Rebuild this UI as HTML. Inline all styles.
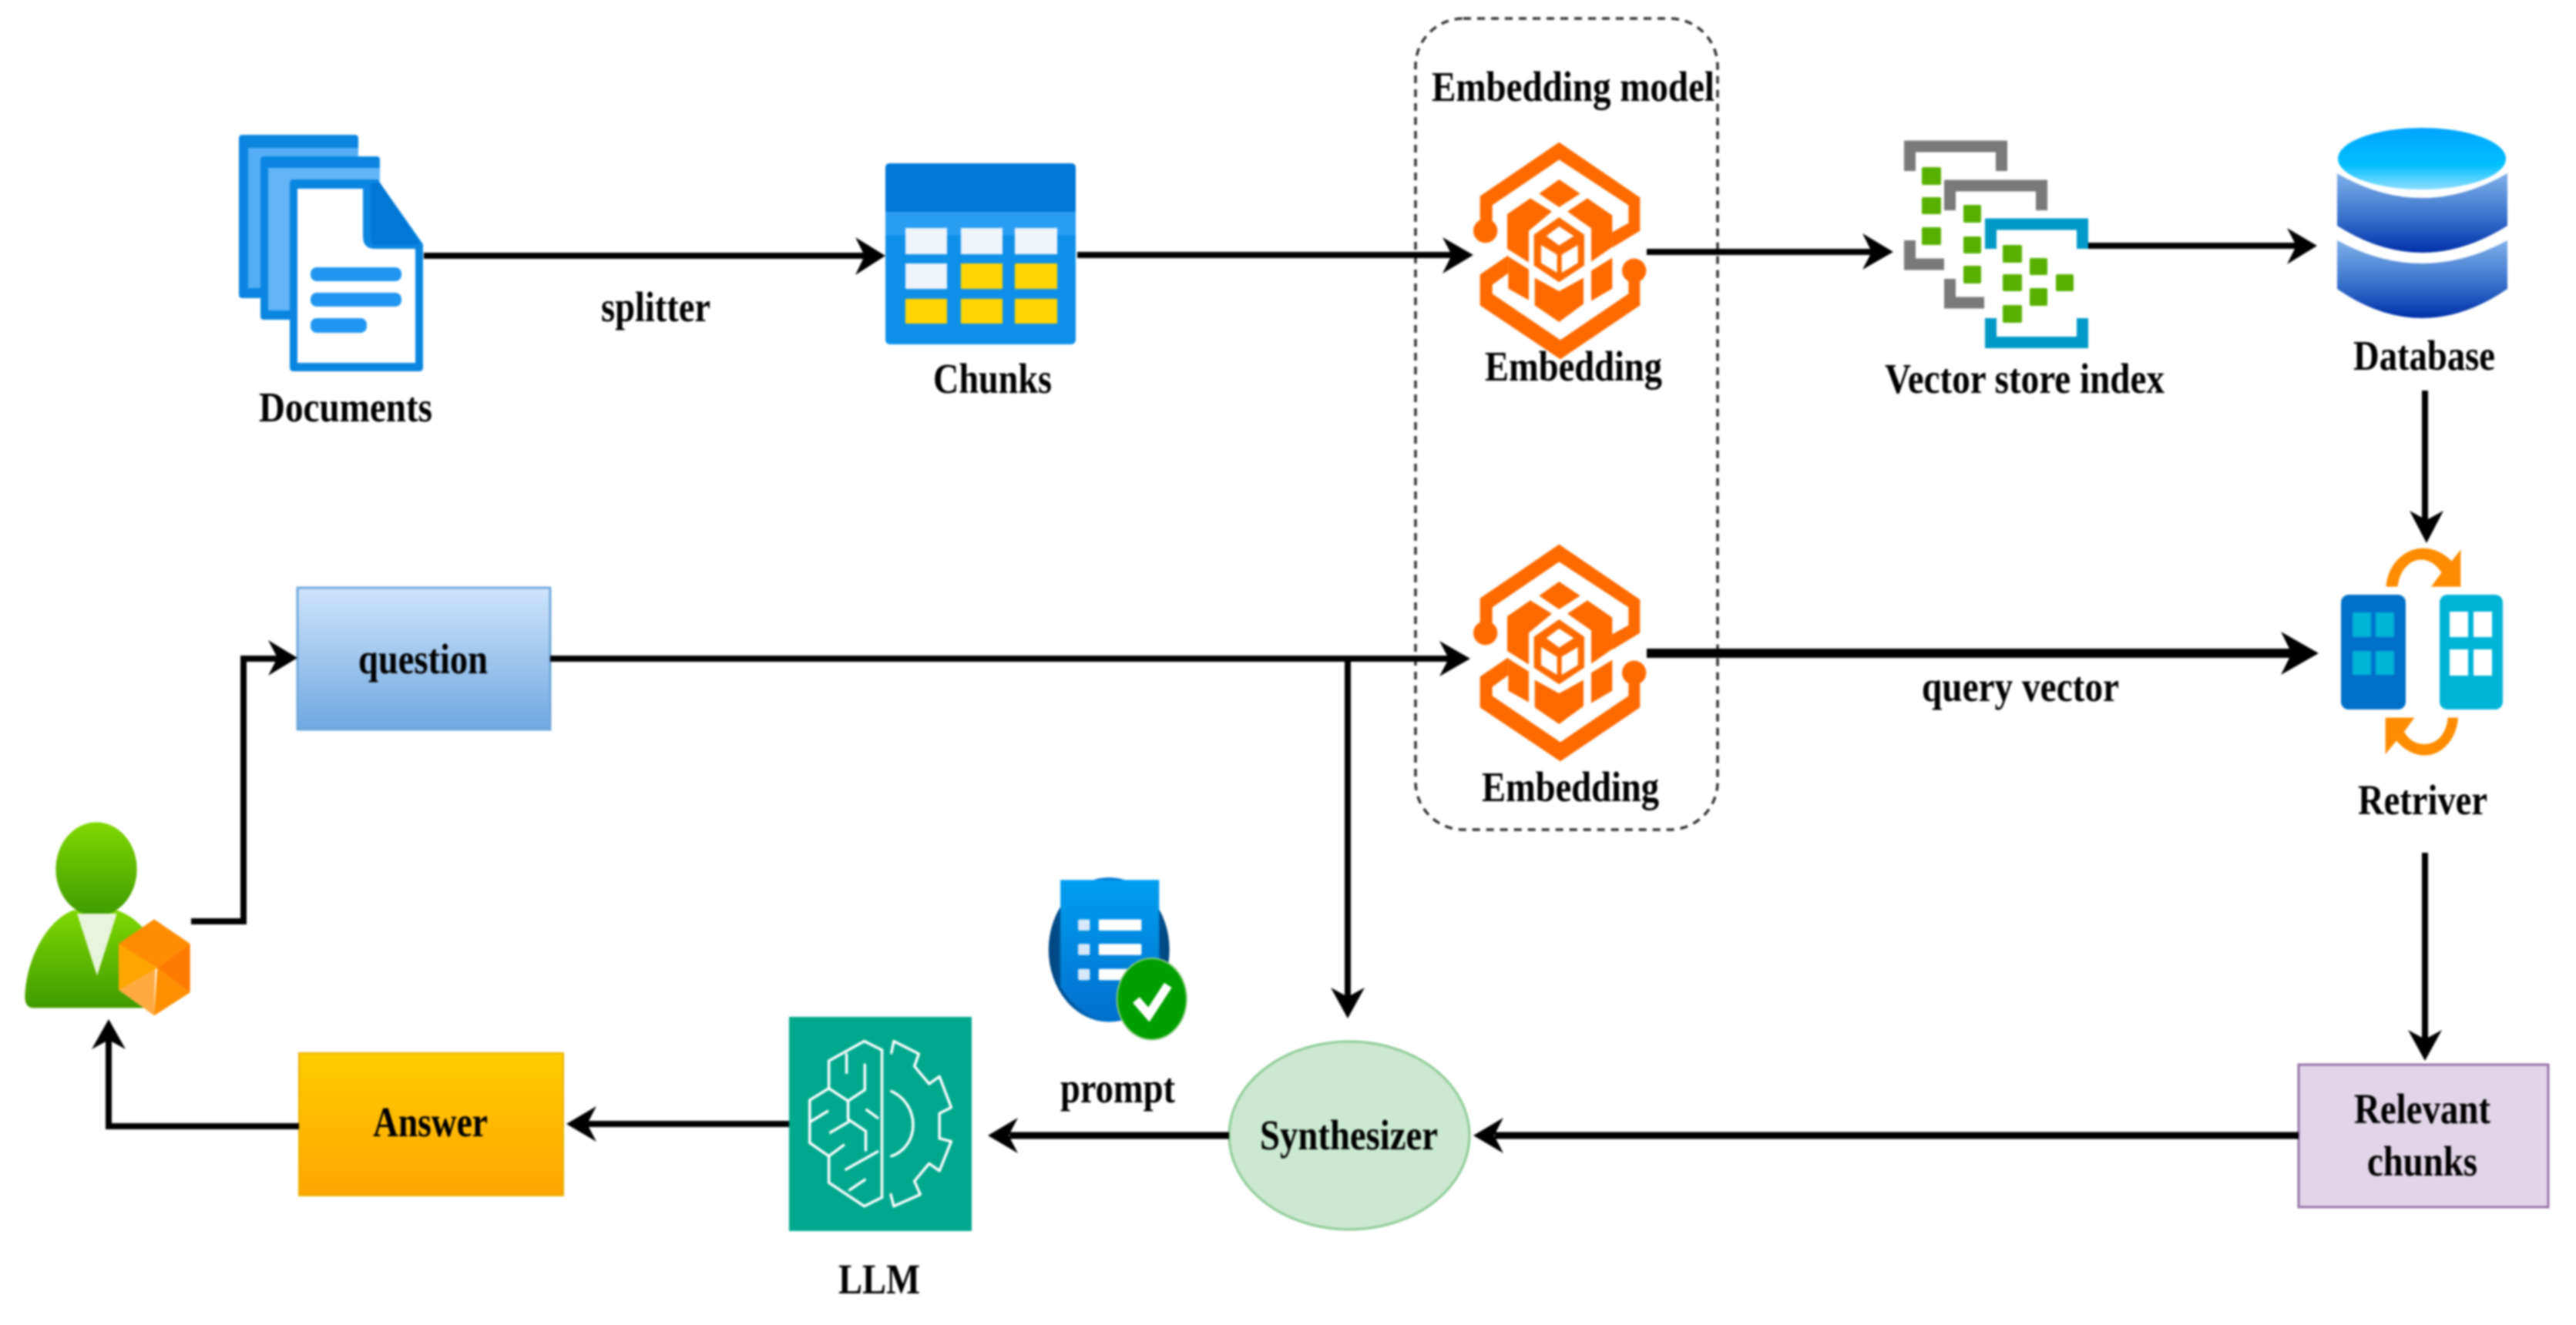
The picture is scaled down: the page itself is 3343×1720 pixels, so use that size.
<!DOCTYPE html>
<html><head><meta charset="utf-8"><style>
html,body{margin:0;padding:0;background:#fff;width:3343px;height:1720px;overflow:hidden}
svg{display:block;filter:blur(1.2px)}
text{font-family:"Liberation Serif",serif;font-weight:bold;font-size:47px;fill:#000}
</style></head><body>
<svg xmlns="http://www.w3.org/2000/svg" width="3343" height="1720" viewBox="0 0 3343 1720">
<defs>
<linearGradient id="dbt" x1="0" y1="0" x2="0" y2="1"><stop offset="0" stop-color="#00A4FF"/><stop offset=".6" stop-color="#00C0FF"/><stop offset="1" stop-color="#8FDDFF"/></linearGradient>
<linearGradient id="dbb" x1="0" y1="0" x2="0" y2="1"><stop offset="0" stop-color="#7FB0E8"/><stop offset=".55" stop-color="#3A72CC"/><stop offset="1" stop-color="#0030A8"/></linearGradient>
<linearGradient id="qg" x1="0" y1="0" x2="0" y2="1"><stop offset="0" stop-color="#CFE4FB"/><stop offset="1" stop-color="#6FA8E0"/></linearGradient>
<linearGradient id="ag" x1="0" y1="0" x2="0" y2="1"><stop offset="0" stop-color="#FFCD00"/><stop offset="1" stop-color="#FFA500"/></linearGradient>
<linearGradient id="ug" x1="0" y1="0" x2="0" y2="1"><stop offset="0" stop-color="#7FD800"/><stop offset="1" stop-color="#3F9A00"/></linearGradient>
<linearGradient id="pd" x1="0" y1="0" x2="1" y2="0"><stop offset="0" stop-color="#00457F"/><stop offset=".5" stop-color="#0078D4"/><stop offset="1" stop-color="#00457F"/></linearGradient>
<linearGradient id="pb" x1="0" y1="0" x2="0" y2="1"><stop offset="0" stop-color="#009EF0"/><stop offset="1" stop-color="#0070CC"/></linearGradient>
<g id="emb" fill="#FF6A00">
<polygon points="122,370 122,260 430,50 745,265 745,395 637,460 637,400 700,365 700,295 430,118 170,295 170,370"/>
<polygon points="462,320 540,268 637,335 637,458 555,515 555,385"/>
<polygon points="402,320 318,268 228,330 228,465 312,518 312,395"/>
<polygon points="352,250 430,195 512,250 430,303"/>
<polygon points="332,410 430,342 528,410 528,530 430,595 332,530"/>
<polygon fill="#fff" points="380,415 430,378 487,415 430,452"/>
<polygon fill="#fff" points="360,450 422,488 422,558 360,520"/>
<polygon fill="#fff" points="440,488 503,450 503,520 440,558"/>
<circle cx="143" cy="395" r="47"/><circle cx="722" cy="550" r="47"/>
<polygon points="122,565 232,490 232,560 170,605 170,640 435,820 700,640 700,580 745,580 745,685 435,895 122,685"/>
<polygon points="232,495 312,545 312,665 232,620"/>
<polygon points="335,578 430,630 525,578 525,680 430,750 335,685"/>
<polygon points="555,550 637,500 637,620 555,668"/>
</g>
</defs>

<!-- dashed group -->
<rect x="1837" y="24" width="392" height="1053" rx="62" ry="62" fill="none" stroke="#333" stroke-width="3.5" stroke-dasharray="10 8"/>

<!-- Documents -->
<g>
<rect x="310" y="175" width="155" height="212" rx="4" fill="#0A86E0"/>
<rect x="322" y="192" width="143" height="182" fill="#55AEF5"/>
<rect x="338" y="203" width="155" height="212" rx="4" fill="#0A86E0"/>
<rect x="348" y="218" width="145" height="185" fill="#62B4F7"/>
<path d="M376 238 Q376 233 381 233 H490 L549 317 V477 Q549 482 544 482 H381 Q376 482 376 477 Z" fill="#0A86E0"/>
<path d="M386 245 H471 V307 Q471 323 487 323 H539 V471 H386 Z" fill="#fff"/>
<path d="M481 237 L493 237 L546 317 L487 318 Q481 318 481 305 Z" fill="#0078D4"/>
<rect x="403" y="347" width="118" height="18" rx="8" fill="#2196F0"/>
<rect x="403" y="380" width="118" height="18" rx="8" fill="#2196F0"/>
<rect x="403" y="413" width="73" height="19" rx="8" fill="#2196F0"/>
</g>
<text transform="translate(336,547) scale(1,1.18)" textLength="225" lengthAdjust="spacingAndGlyphs">Documents</text>
<text transform="translate(780,417) scale(1,1.18)" textLength="142" lengthAdjust="spacingAndGlyphs">splitter</text>

<!-- Chunks -->
<rect x="1149" y="212" width="247" height="235" rx="6" fill="#0F90E8"/>
<path d="M1149 275 V218 Q1149 212 1155 212 H1390 Q1396 212 1396 218 V275 Z" fill="#0078D7"/>
<rect x="1149" y="275" width="247" height="30" fill="#2A9DF2"/>
<g fill="#EFF4FB"><rect x="1175" y="296" width="54" height="34"/><rect x="1247" y="296" width="54" height="34"/><rect x="1317" y="296" width="55" height="34"/><rect x="1175" y="342" width="54" height="33"/></g>
<g fill="#FFD400"><rect x="1247" y="342" width="54" height="33"/><rect x="1317" y="342" width="55" height="33"/><rect x="1175" y="388" width="54" height="32"/><rect x="1247" y="388" width="54" height="32"/><rect x="1317" y="388" width="55" height="32"/></g>
<text transform="translate(1211,510) scale(1,1.18)" textLength="154" lengthAdjust="spacingAndGlyphs">Chunks</text>

<!-- Embedding -->
<text transform="translate(1858,131) scale(1,1.18)" textLength="367" lengthAdjust="spacingAndGlyphs">Embedding model</text>
<use href="#emb" transform="translate(1880,168) scale(.33333)"/>
<text transform="translate(1927,494) scale(1,1.18)" textLength="230" lengthAdjust="spacingAndGlyphs">Embedding</text>
<use href="#emb" transform="translate(1880,690) scale(.33333)"/>
<text transform="translate(1923,1040) scale(1,1.18)" textLength="230" lengthAdjust="spacingAndGlyphs">Embedding</text>

<!-- Vector store -->
<g fill="none" stroke="#7A7A7A" stroke-width="15">
<path d="M2478.5 222 V190 H2597.5 V222"/>
<path d="M2530.5 273 V241 H2649.5 V273"/>
<path d="M2478.5 312 V343 H2523"/>
<path d="M2530.5 362 V393 H2575"/>
</g>
<g fill="none" stroke="#0099C8" stroke-width="15">
<path d="M2583.5 323 V291 H2702.5 V323"/>
<path d="M2583.5 413 V444.5 H2702.5 V413"/>
</g>
<g fill="#57B000">
<rect x="2494" y="217" width="25" height="23" rx="2"/><rect x="2494" y="256" width="25" height="22" rx="2"/><rect x="2494" y="295" width="25" height="23" rx="2"/>
<rect x="2548" y="266" width="23" height="23" rx="2"/><rect x="2548" y="307" width="23" height="22" rx="2"/><rect x="2548" y="345" width="23" height="23" rx="2"/>
<rect x="2599" y="318" width="25" height="23" rx="2"/><rect x="2599" y="356" width="25" height="22" rx="2"/><rect x="2599" y="396" width="25" height="23" rx="2"/>
<rect x="2634" y="335" width="23" height="22" rx="2"/><rect x="2634" y="374" width="23" height="23" rx="2"/>
<rect x="2668" y="356" width="23" height="22" rx="2"/>
</g>
<text transform="translate(2446,510) scale(1,1.18)" textLength="363" lengthAdjust="spacingAndGlyphs">Vector store index</text>

<!-- Database -->
<path d="M3033 312 Q3143 372 3254 312 V375 Q3143 451 3033 375 Z" fill="url(#dbb)"/>
<path d="M3033 225 Q3143 289 3254 225 V293 Q3143 363 3033 293 Z" fill="url(#dbb)"/>
<ellipse cx="3143" cy="206" rx="109" ry="40" fill="url(#dbt)"/>
<text transform="translate(3054,480) scale(1,1.18)" textLength="184" lengthAdjust="spacingAndGlyphs">Database</text>

<!-- Retriever -->
<rect x="3038" y="772" width="84" height="149" rx="10" fill="#0070C8"/>
<rect x="3166" y="772" width="82" height="149" rx="10" fill="#00B4D8"/>
<g fill="#00B4D8"><rect x="3053" y="795" width="24" height="32"/><rect x="3083" y="795" width="24" height="32"/><rect x="3053" y="845" width="24" height="31"/><rect x="3083" y="845" width="24" height="31"/></g>
<g fill="#fff"><rect x="3179" y="794" width="24" height="33"/><rect x="3210" y="794" width="24" height="33"/><rect x="3179" y="843" width="24" height="34"/><rect x="3210" y="843" width="24" height="34"/></g>
<g transform="translate(2950,680) scale(.33333)" fill="#FF8C00">
<path d="M440 245 C445 160 510 95 585 95 C625 95 665 115 695 145 L730 100 V245 H615 L655 190 C630 150 600 140 575 140 C530 140 490 185 485 245 Z"/>
<path d="M720 755 C715 840 655 902 590 902 C550 902 510 880 480 845 L437 897 V755 H550 L510 810 C530 845 560 858 590 858 C640 858 675 815 680 755 Z"/>
</g>
<text transform="translate(3060,1057) scale(1,1.18)" textLength="168" lengthAdjust="spacingAndGlyphs">Retriver</text>
<text transform="translate(2494,910) scale(1,1.18)" textLength="256" lengthAdjust="spacingAndGlyphs">query vector</text>

<!-- Question -->
<rect x="386" y="763" width="328" height="184" fill="url(#qg)" stroke="#6FA8DC" stroke-width="3"/>
<text transform="translate(465,874) scale(1,1.18)" textLength="168" lengthAdjust="spacingAndGlyphs">question</text>

<!-- Answer -->
<rect x="388" y="1367" width="343" height="185" fill="url(#ag)" stroke="#E8B000" stroke-width="2"/>
<text transform="translate(484,1475) scale(1,1.18)" textLength="149" lengthAdjust="spacingAndGlyphs">Answer</text>

<!-- Synthesizer -->
<ellipse cx="1751" cy="1474" rx="156" ry="122" fill="#CBE8D2" stroke="#8CCB96" stroke-width="3"/>
<text transform="translate(1635,1492) scale(1,1.18)" textLength="231" lengthAdjust="spacingAndGlyphs">Synthesizer</text>

<!-- Relevant chunks -->
<rect x="2983" y="1382" width="324" height="185" fill="#E1D5E7" stroke="#9673A6" stroke-width="3"/>
<text transform="translate(3055,1458) scale(1,1.18)" textLength="177" lengthAdjust="spacingAndGlyphs">Relevant</text>
<text transform="translate(3072,1526) scale(1,1.18)" textLength="143" lengthAdjust="spacingAndGlyphs">chunks</text>

<!-- LLM -->
<rect x="1024" y="1320" width="237" height="278" fill="#01A88D"/>
<g transform="translate(980,1120) scale(.3827)" fill="none" stroke="#fff" stroke-width="9" stroke-linejoin="round" stroke-linecap="round">
<path d="M430 635 V1135"/>
<path d="M430 635 L370 605 L250 672 V765 L185 805 V950 L250 995 V1085 L370 1165 L430 1135"/>
<path d="M310 650 V712 M372 685 V770 L315 808 L250 765 M315 808 V870 L375 910 V975 M185 880 L245 843 M255 915 L315 880 M378 838 L415 865 M250 995 L300 958 M308 1040 L415 980 M320 1110 L372 1075"/>
<path d="M462 775 C560 820 560 960 462 995"/>
<path d="M462 645 L470 605 L555 648 L540 690 L590 750 L625 725 L665 830 L625 850 V935 L665 945 L625 1045 L590 1020 L540 1080 L560 1125 L470 1165 L460 1125"/>
</g>
<text transform="translate(1088,1679) scale(1,1.18)" textLength="106" lengthAdjust="spacingAndGlyphs">LLM</text>

<!-- prompt -->
<g transform="translate(980,1120) scale(.3827)">
<ellipse cx="1200" cy="295" rx="205" ry="245" fill="url(#pd)"/>
<path d="M1035 58 H1370 V440 L1225 537 Q1100 530 1035 420 Z" fill="url(#pb)"/>
<g fill="#D5E8FA"><rect x="1095" y="192" width="40" height="38" rx="5"/><rect x="1095" y="275" width="40" height="38" rx="5"/><rect x="1095" y="360" width="40" height="38" rx="5"/></g>
<g fill="#fff"><rect x="1165" y="192" width="145" height="38" rx="4"/><rect x="1165" y="275" width="145" height="38" rx="4"/><rect x="1165" y="360" width="145" height="38" rx="4"/></g>
<ellipse cx="1345" cy="462" rx="118" ry="138" fill="#009F00" stroke="#8CCB7E" stroke-width="5"/>
<polyline points="1292,465 1335,515 1400,415" fill="none" stroke="#fff" stroke-width="30"/>
</g>
<text transform="translate(1376,1431) scale(1,1.18)" textLength="149" lengthAdjust="spacingAndGlyphs">prompt</text>

<!-- User -->
<g transform="scale(.33333) translate(0,3120)">
<path d="M125 805 Q95 800 97 755 C105 600 190 460 285 425 L455 425 C500 440 540 470 570 510 L570 805 Z" fill="url(#ug)"/>
<ellipse cx="375" cy="265" rx="158" ry="183" fill="url(#ug)"/>
<polygon points="300,438 455,438 378,680" fill="#E8F4DC"/>
<polygon points="462,555 600,460 740,555 612,650" fill="#FF8C00"/>
<polygon points="740,555 740,745 612,650" fill="#FF7A00"/>
<polygon points="612,650 740,745 600,835" fill="#FF8F00"/>
<polygon points="462,735 605,650 600,835" fill="#FFAB40"/>
<polygon points="462,555 612,650 462,735" fill="#FFA500"/>
</g>

<!-- Connectors -->
<g fill="none" stroke="#000" stroke-width="8">
<path d="M550 332 H1125"/>
<path d="M1398 331 H1890"/>
<path d="M2137 327 H2430"/>
<path d="M2710 319 H2980"/>
<path d="M3147 507 V680"/>
<path d="M2137 848 H2975" stroke-width="12"/>
<path d="M714 855 H1885"/>
<path d="M1749 855 V1295"/>
<path d="M248 1196 H316 V855 H360"/>
<path d="M3147 1107 V1350"/>
<path d="M2983 1474 H1940" stroke-width="9"/>
<path d="M1595 1474 H1310" stroke-width="9"/>
<path d="M1024 1459 H760"/>
<path d="M388 1462 H141 V1345"/>
</g>
<g fill="#000">
<polygon points="1149,332 1110,308 1122,332 1110,357"/>
<polygon points="1912,331 1872,308 1884,331 1872,355"/>
<polygon points="2457,327 2417,303 2429,327 2417,350"/>
<polygon points="3007,319 2968,296 2980,319 2968,343"/>
<polygon points="3149,705 3127,663 3149,675 3171,663"/>
<polygon points="3009,848 2960,820 2974,848 2960,876"/>
<polygon points="1908,855 1868,832 1880,855 1868,878"/>
<polygon points="1749,1322 1727,1282 1749,1294 1771,1282"/>
<polygon points="386,854 348,831 360,854 348,877"/>
<polygon points="3147,1377 3125,1337 3147,1349 3169,1337"/>
<polygon points="1912,1474 1951,1451 1939,1474 1951,1497"/>
<polygon points="1282,1474 1321,1451 1309,1474 1321,1497"/>
<polygon points="735,1459 774,1436 762,1459 774,1482"/>
<polygon points="141,1323 119,1362 141,1350 163,1362"/>
</g>
</svg>
</body></html>
